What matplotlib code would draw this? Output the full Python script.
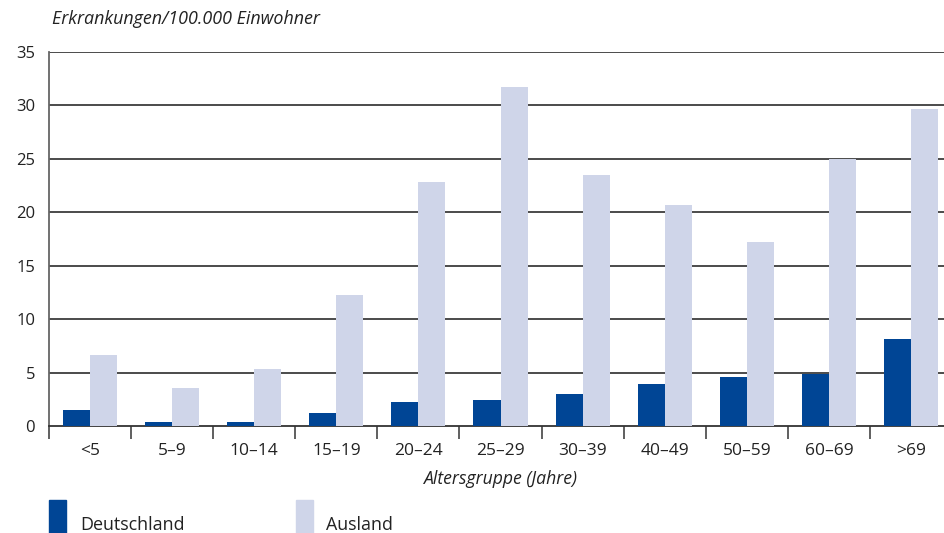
import matplotlib
matplotlib.use("Agg")
import matplotlib.pyplot as plt
from matplotlib.patches import Rectangle
import numpy as np

categories = ["<5", "5–9", "10–14", "15–19", "20–24", "25–29", "30–39", "40–49", "50–59", "60–69", ">69"]
deutschland = [1.5, 0.4, 0.4, 1.2, 2.2, 2.4, 3.0, 3.9, 4.6, 4.9, 8.1]
ausland = [6.6, 3.6, 5.3, 12.3, 22.8, 31.7, 23.5, 20.7, 17.2, 25.0, 29.7]
yticks = [0, 5, 10, 15, 20, 25, 30, 35]

c_de = "#004595"
c_au = "#cfd5e9"

plt.rcParams['font.family'] = ['Open Sans', 'DejaVu Sans']

W, H = 945, 533
fig = plt.figure(figsize=(W / 100, H / 100), dpi=100)
ax = fig.add_axes([49 / W, 107 / H, 903 / W, 374 / H])

x = np.arange(len(categories))
bw = 0.33
ax.bar(x - bw / 2, deutschland, bw, color=c_de, zorder=3)
ax.bar(x + bw / 2, ausland, bw, color=c_au, zorder=3)

ax.set_xlim(-0.5, len(categories) - 0.5)
ax.set_ylim(0, 35)
ax.set_yticks(yticks)
ax.set_yticklabels([str(t) for t in yticks], fontsize=12, color="#222222")
for t in yticks[1:]:
    ax.axhline(t, color="#1a1a1a", lw=1.1, zorder=2)

ax.set_xticks(x)
ax.set_xticklabels(categories, fontsize=12.5, color="#222222")
ax.set_xticks(np.arange(len(categories) + 1) - 0.5, minor=True)
ax.tick_params(axis='x', which='major', length=0, pad=12)
ax.tick_params(axis='x', which='minor', length=9, width=1.2, color="#444444", direction='out')
ax.tick_params(axis='y', length=0, pad=10)

for s in ['top', 'right']:
    ax.spines[s].set_visible(False)
ax.spines['left'].set_color("#666666")
ax.spines['left'].set_linewidth(1.3)
ax.spines['bottom'].set_color("#333333")
ax.spines['bottom'].set_linewidth(1.3)

fig.text(501 / W, 1 - 479 / H, "Altersgruppe (Jahre)", fontsize=12.7, style='italic',
         ha='center', va='center', color="#222222")
fig.text(52 / W, 1 - 19 / H, "Erkrankungen/100.000 Einwohner", fontsize=12.9, style='italic',
         ha='left', va='center', color="#222222")

# legend
fig.patches.append(Rectangle((49 / W, 0), 17 / W, 33 / H, transform=fig.transFigure,
                             color=c_de, figure=fig))
fig.patches.append(Rectangle((296 / W, 0), 17 / W, 33 / H, transform=fig.transFigure,
                             color=c_au, figure=fig))
fig.text(80 / W, 1 - 525 / H, "Deutschland", fontsize=12.9, ha='left', va='center', color="#222222")
fig.text(326 / W, 1 - 525 / H, "Ausland", fontsize=12.9, ha='left', va='center', color="#222222")

fig.savefig("out.png", dpi=100)
